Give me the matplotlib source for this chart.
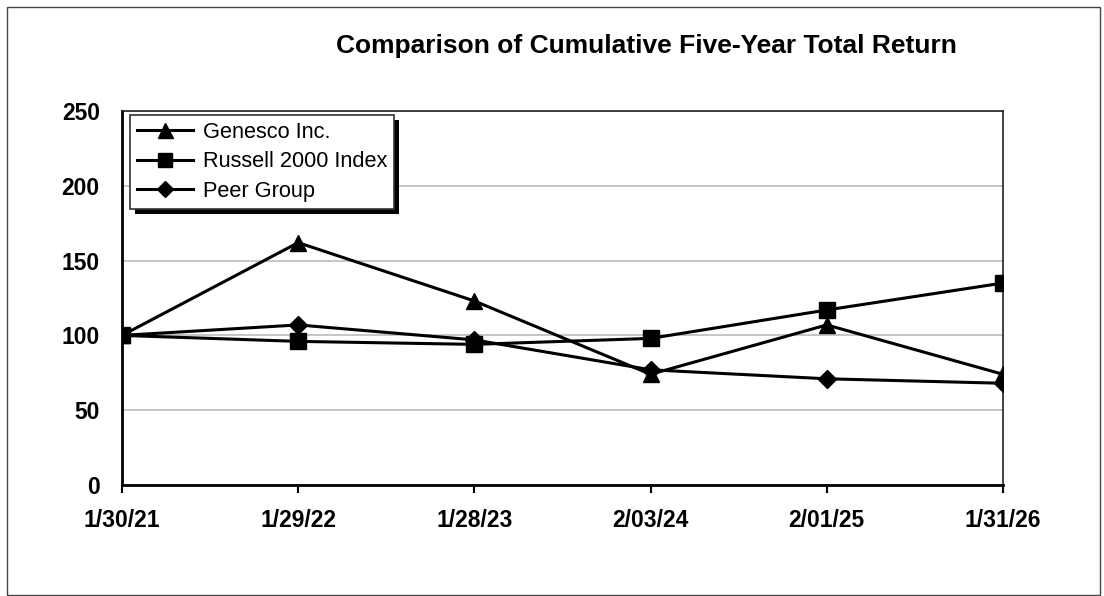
import matplotlib
matplotlib.use("Agg")
import matplotlib.pyplot as plt
from matplotlib.patches import Rectangle

dates = ["1/30/21", "1/29/22", "1/28/23", "2/03/24", "2/01/25", "1/31/26"]
genesco = [100, 162, 123, 74, 107, 74]
russell = [100, 96, 94, 98, 117, 135]
peer = [100, 107, 97, 77, 71, 68]
yticks = [0, 50, 100, 150, 200, 250]

plt.rcParams['font.family'] = ['Liberation Sans', 'DejaVu Sans']

W, H = 1104, 596
fig = plt.figure(figsize=(W / 100, H / 100), dpi=100)
ax = fig.add_axes([122 / W, 1 - 485 / H, (1003 - 122) / W, (485 - 111) / H])

x = list(range(len(dates)))
lw = 2.2
ax.plot(x, genesco, color='black', lw=lw, marker='^', markersize=12, label='Genesco Inc.', zorder=3)
ax.plot(x, russell, color='black', lw=lw, marker='s', markersize=11, label='Russell 2000 Index', zorder=3)
ax.plot(x, peer, color='black', lw=lw, marker='D', markersize=9, label='Peer Group', zorder=3)

ax.set_xlim(0, len(dates) - 1)
ax.set_ylim(0, 250)
ax.set_yticks(yticks)
ax.set_yticklabels([str(v) for v in yticks], fontsize=16.5, fontweight='bold')
ax.set_xticks(x)
ax.set_xticklabels(dates, fontsize=16.5, fontweight='bold')
ax.tick_params(axis='y', length=0, pad=16)
ax.tick_params(axis='x', length=6, width=1.5, direction='out', pad=11)
ax.yaxis.grid(True, color='#c0c0c0', lw=1.3)
ax.set_axisbelow(True)
for s in ['left', 'bottom']:
    ax.spines[s].set_linewidth(2)
for s in ['top', 'right']:
    ax.spines[s].set_linewidth(1.2)
    ax.spines[s].set_color('#222222')

fig.text(646 / W, 1 - 46 / H, 'Comparison of Cumulative Five-Year Total Return',
         fontsize=19, fontweight='bold', ha='center', va='center')

leg = ax.legend(loc='upper left', bbox_to_anchor=(8 / (1003 - 122), 1 - 4 / 374),
                fontsize=15.7, frameon=True, fancybox=False, shadow=False,
                handlelength=2.6, labelspacing=0.4, borderpad=0.3, handletextpad=0.45,
                borderaxespad=0, framealpha=1, markerscale=0.9)
leg.get_frame().set_edgecolor('#333333')
leg.get_frame().set_linewidth(1.2)
leg.set_zorder(10)

fig.canvas.draw()
bb = leg.get_frame().get_window_extent()
off = 5
shadow = Rectangle((bb.x0 + off, bb.y0 - off), bb.width, bb.height,
                   transform=None, facecolor='black', edgecolor='none', zorder=9)
ax.add_artist(shadow)

fig.patches.append(Rectangle((7 / W, 1 / H), (1100 - 7) / W, (592 - 4) / H,
                             transform=fig.transFigure, fill=False,
                             edgecolor='#444444', lw=1))

fig.savefig('out.png', dpi=100)
